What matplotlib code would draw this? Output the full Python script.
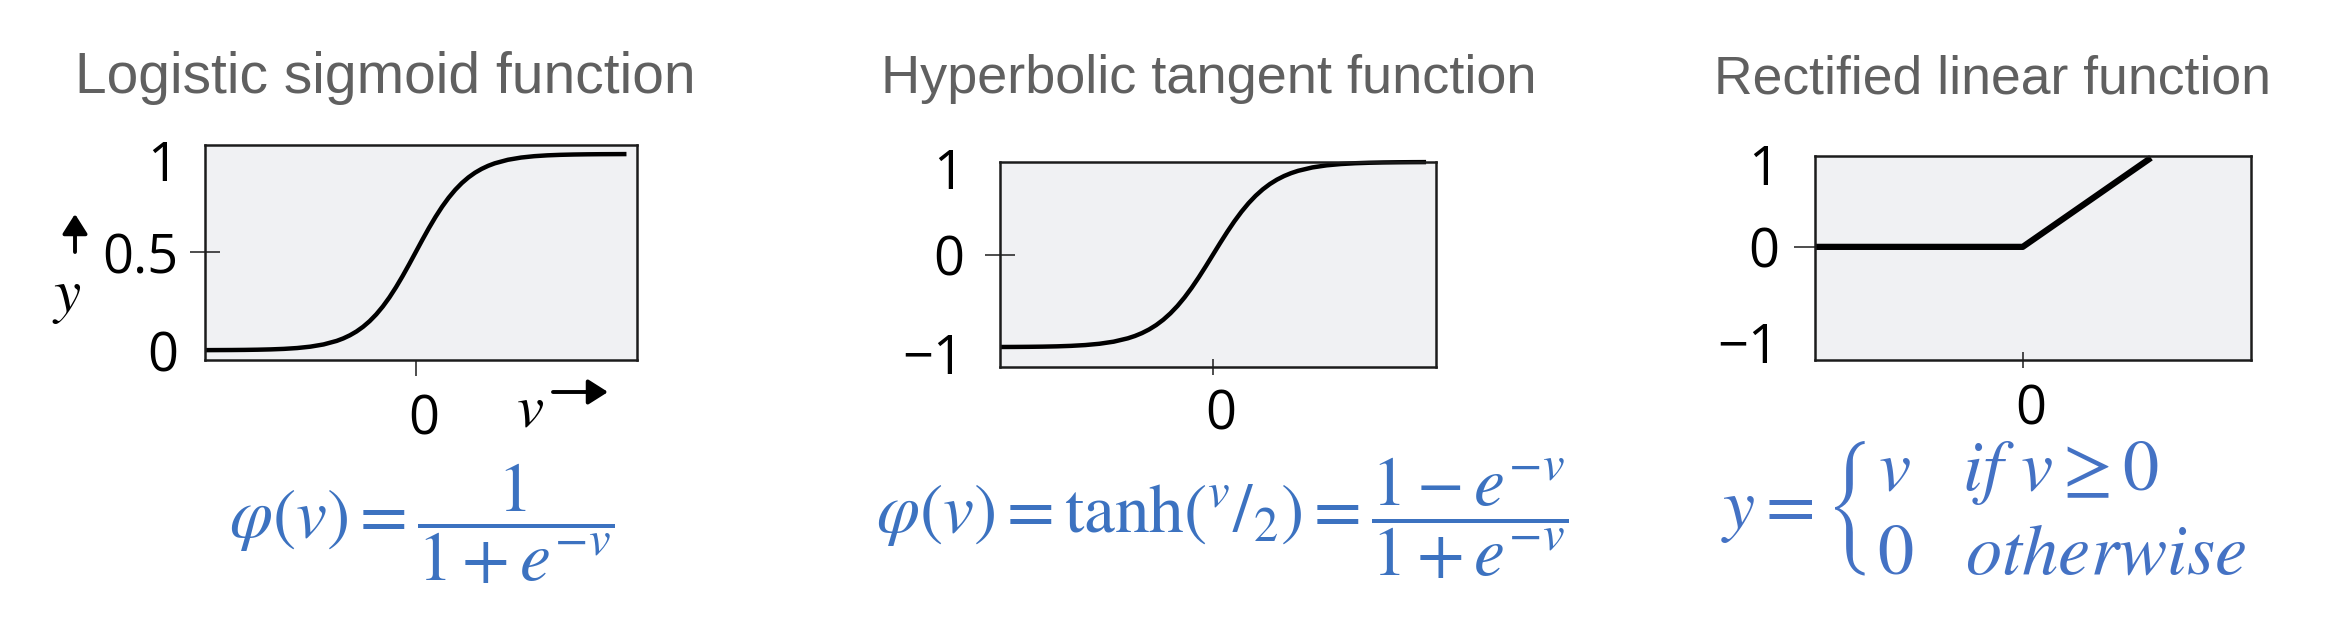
import matplotlib
matplotlib.use("Agg")
import matplotlib.pyplot as plt
from matplotlib.patches import FancyArrowPatch
from matplotlib.transforms import ScaledTranslation
from matplotlib.mathtext import MathTextParser
from matplotlib.font_manager import FontProperties

# ---------------- data ----------------
titles = ["Logistic sigmoid function", "Hyperbolic tangent function", "Rectified linear function"]

sig_v = [-8, -7.5, -7, -6.5, -6, -5.5, -5, -4.5, -4, -3.5,
         -3, -2.75, -2.5, -2.25, -2, -1.75, -1.5, -1.25, -1, -0.75, -0.5, -0.25,
         0,
         0.25, 0.5, 0.75, 1, 1.25, 1.5, 1.75, 2, 2.25, 2.5, 2.75, 3,
         3.5, 4, 4.5, 5, 5.5, 6, 6.5, 7, 7.5, 8]
sig_y = [0.0003, 0.0006, 0.0009, 0.0015, 0.0025, 0.0041, 0.0067, 0.0110, 0.0180, 0.0293,
         0.0474, 0.0601, 0.0759, 0.0953, 0.1192, 0.1480, 0.1824, 0.2227, 0.2689, 0.3208, 0.3775, 0.4378,
         0.5,
         0.5622, 0.6225, 0.6792, 0.7311, 0.7773, 0.8176, 0.8520, 0.8808, 0.9047, 0.9241, 0.9399, 0.9526,
         0.9707, 0.9820, 0.9890, 0.9933, 0.9959, 0.9975, 0.9985, 0.9991, 0.9994, 0.9997]

tanh_v = [-7.5, -7, -6.5, -6, -5.5, -5, -4.5, -4, -3.5,
          -3, -2.75, -2.5, -2.25, -2, -1.75, -1.5, -1.25, -1, -0.75, -0.5, -0.25,
          0,
          0.25, 0.5, 0.75, 1, 1.25, 1.5, 1.75, 2, 2.25, 2.5, 2.75, 3,
          3.5, 4, 4.5, 5, 5.5, 6, 6.5, 7, 7.5]
tanh_y = [-0.9989, -0.9982, -0.9970, -0.9951, -0.9919, -0.9866, -0.9780, -0.9640, -0.9414,
          -0.9051, -0.8798, -0.8483, -0.8093, -0.7616, -0.7039, -0.6351, -0.5546, -0.4621, -0.3584, -0.2449, -0.1244,
          0.0,
          0.1244, 0.2449, 0.3584, 0.4621, 0.5546, 0.6351, 0.7039, 0.7616, 0.8093, 0.8483, 0.8798, 0.9051,
          0.9414, 0.9640, 0.9780, 0.9866, 0.9919, 0.9951, 0.9970, 0.9982, 0.9989]

relu_v = [-1.62, 0.0, 1.0]
relu_y = [0.0, 0.0, 1.0]

sig_yticks = [0, 0.5, 1]
sig_yticklabels = ["0", "0.5", "1"]
sym_yticks = [-1, 0, 1]
sym_yticklabels = ["\u22121", "0", "1"]
xticks = [0]
xticklabels = ["0"]

formulas = [r"$\varphi(v)=\dfrac{1}{1+e^{-v}}$",
            r"$\varphi(v)=\mathrm{tanh}\left({}^{v}/_{2}\right)=\dfrac{1-e^{-v}}{1+e^{-v}}$"]
relu_rows = [r"v\quad if\ v\geq 0", r"0\quad otherwise"]

# ---------------- styling ----------------
W, H = 2350, 634
DPI = 100
plt.rcParams["mathtext.fontset"] = "stix"
FACE = "#f0f1f3"
SPINE = "#1c1c1c"
BLUE = "#3c72c0"
BLUE3 = "#4472c4"
TITLE_C = "#606060"
TICKFONT = "Open Sans"
TICKSIZE = 39

fig = plt.figure(figsize=(W / DPI, H / DPI), dpi=DPI)
fig.patch.set_facecolor("white")


def px(x, y):
    return x / W, 1 - y / H


def add_ax(l, r, t, b):
    ax = fig.add_axes([l / W, 1 - b / H, (r - l) / W, (b - t) / H])
    ax.set_facecolor(FACE)
    for s in ax.spines.values():
        s.set_color(SPINE)
        s.set_linewidth(1.8)
    return ax


def style_ticks(ax, yt, ytl, ymark, ydir, ylen, ypad, xdir, xlen, xpad):
    ax.set_yticks(yt, ytl)
    ax.set_xticks(xticks, xticklabels)
    ax.tick_params(axis="y", direction=ydir, length=ylen, width=1.1, pad=ypad,
                   labelsize=TICKSIZE, color=SPINE)
    ax.tick_params(axis="x", direction=xdir, length=xlen, width=1.1, pad=xpad,
                   labelsize=TICKSIZE, color=SPINE)
    for lab in ax.get_xticklabels():
        lab.set_fontfamily(TICKFONT)
        lab.set_transform(lab.get_transform() + ScaledTranslation(8 / DPI, 0, fig.dpi_scale_trans))
    for lab in ax.get_yticklabels():
        lab.set_fontfamily(TICKFONT)
        if lab.get_text() in ("1", "\u22121"):
            lab.set_transform(lab.get_transform() + ScaledTranslation(0, -6 / DPI, fig.dpi_scale_trans))
    for t, val in zip(ax.yaxis.get_major_ticks(), yt):
        t.tick1line.set_visible(val == ymark)


# Panel 1 : logistic sigmoid
ax1 = add_ax(205, 637, 145, 360)
ax1.plot(sig_v, sig_y, color="black", lw=3.2, solid_capstyle="butt", clip_on=False)
ax1.set_xlim(-8, 8.4)
ax1.set_ylim(-0.05, 1.046)
style_ticks(ax1, sig_yticks, sig_yticklabels, 0.5, "inout", 22, 8, "out", 11.5, 12)

# Panel 2 : tanh
ax2 = add_ax(1000, 1436, 162, 367)
ax2.plot(tanh_v, tanh_y, color="black", lw=3.2, solid_capstyle="butt", clip_on=False)
ax2.set_xlim(-7.5, 7.85)
ax2.set_ylim(-1.215, 1.0)
style_ticks(ax2, sym_yticks, sym_yticklabels, 0, "inout", 22, 15, "inout", 11.5, 9)

# Panel 3 : ReLU
ax3 = add_ax(1815, 2251, 156, 360)
ax3.plot(relu_v, relu_y, color="black", lw=4.5, solid_capstyle="butt", clip_on=False)
ax3.set_xlim(-1.62, 1.78)
ax3.set_ylim(-1.27, 1.02)
style_ticks(ax3, sym_yticks, sym_yticklabels, 0, "out", 15, 11, "inout", 12, 10)

# Titles
for (cx, t, fs) in zip([385, 1209, 1993], titles, [41, 39, 38.5]):
    fig.text(*px(cx, 93), t, ha="center", va="baseline", fontsize=fs,
             color=TITLE_C, family="Liberation Sans")

# axis labels with arrows (panel 1)
ARW = dict(arrowstyle="-|>,head_length=0.6,head_width=0.38", mutation_scale=20,
           lw=2.8, color="black", shrinkA=0, shrinkB=0)
fig.text(*px(67, 296), r"$y$", ha="center", va="center", fontsize=44, color="black")
fig.add_artist(FancyArrowPatch(px(75, 252), px(75, 214), transform=fig.transFigure, **ARW))
fig.text(*px(530, 410), r"$v$", ha="center", va="center", fontsize=44, color="black")
fig.add_artist(FancyArrowPatch(px(553, 392), px(608, 392), transform=fig.transFigure, **ARW))

# Formulas
FS = 50
fig.text(*px(422, 524), formulas[0], ha="center", va="center", fontsize=FS, color=BLUE)
fig.text(*px(1222, 518), formulas[1], ha="center", va="center", fontsize=FS, color=BLUE)

# piecewise ReLU formula: rows left aligned by padding the shorter row
FS3 = 52
_parser = MathTextParser("path")
_prop = FontProperties(size=FS3)
w_rows = [_parser.parse("$" + r + "$", 72, _prop).width for r in relu_rows]
w_m = _parser.parse("$m$", 72, _prop).width
rows = list(relu_rows)
diff = w_rows[1] - w_rows[0]
if diff > 0:
    rows[0] += r"\hspace{%.3f}" % (diff / w_m)
else:
    rows[1] += r"\hspace{%.3f}" % (-diff / w_m)
relu_formula = r"$y=\left\{\genfrac{}{}{0}{0}{" + rows[0] + "}{" + rows[1] + r"}\right.$"
fig.text(*px(1721, 508), relu_formula, ha="left", va="center", fontsize=FS3, color=BLUE3)

fig.savefig("out.png", dpi=DPI, facecolor="white")
